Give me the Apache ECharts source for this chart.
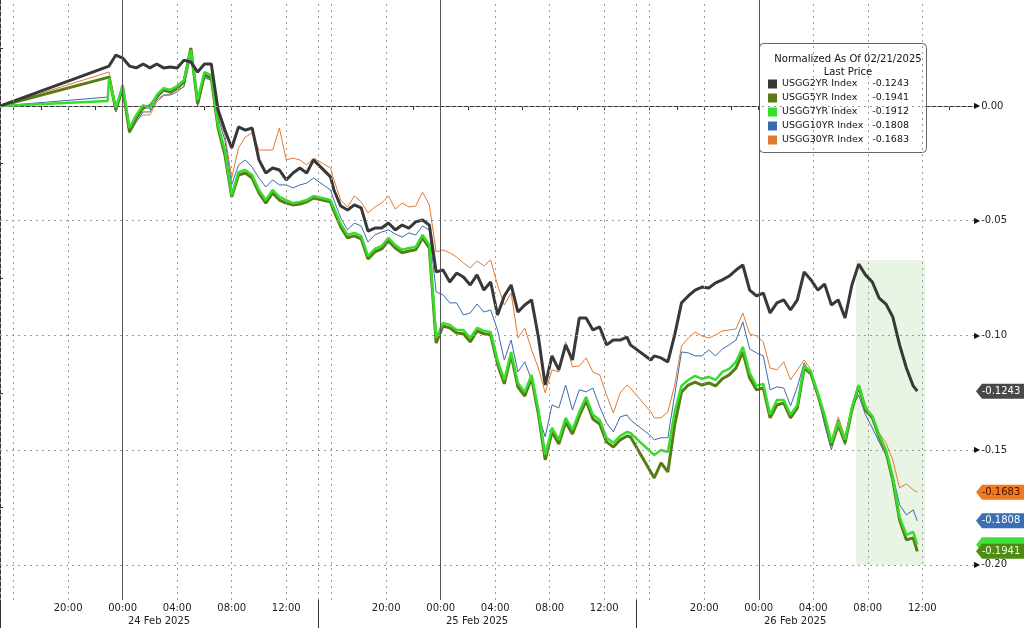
<!DOCTYPE html>
<html><head><meta charset="utf-8">
<script src="https://cdn.jsdelivr.net/npm/echarts@6.0.0/dist/echarts.min.js"></script>
<style>html,body{margin:0;padding:0;background:#fff}#c{width:1024px;height:628px}</style>
</head><body><div id="c"></div>
<script>
// ---- data (x = trading hours since first session open 15:00, overnight gaps removed) ----
const times = [0, 7.9,
 8, 8.5, 9, 9.5, 10, 10.5, 11, 11.5, 12, 12.5, 13, 13.5, 14, 14.5, 15, 15.5, 16, 16.5, 17, 17.5, 18, 18.5, 19, 19.5, 20, 20.5, 21, 21.5, 22, 22.5, 23,
 24.25, 24.5, 25, 25.5, 26, 26.5, 27, 27.5, 28, 28.5, 29, 29.5, 30, 30.5, 31, 31.5, 32, 32.5, 33, 33.5, 34, 34.5, 35, 35.5, 36, 36.5, 37, 37.5, 38, 38.5, 39, 39.5, 40, 40.5, 41, 41.5, 42, 42.5, 43, 43.5, 44, 44.5, 45, 45.5, 46, 46.25,
 47.75, 48, 48.5, 49, 49.5, 50, 50.5, 51, 51.5, 52, 52.5, 53, 53.5, 54, 54.5, 55, 55.5, 56, 56.5, 57, 57.5, 58, 58.5, 59, 59.5, 60, 60.5, 61, 61.5, 62, 62.5, 63, 63.5, 64, 64.5, 65, 65.5, 66, 66.5, 67, 67.3];

const usgg2yr = [0, null,
 0.0174, 0.0222, 0.0209, 0.0174, 0.0166, 0.0183, 0.0166, 0.0183, 0.0166, 0.0170, 0.0166, 0.0200, 0.0192, 0.0148, 0.0183, 0.0183, -0.0017, -0.0105, -0.0183, -0.0091, -0.0105, -0.0096, -0.0235, -0.0292, -0.0270, -0.0279, -0.0322, -0.0292, -0.0270, -0.0292, -0.0235,
 -0.0309, -0.0366, -0.0436, -0.0453, -0.0431, -0.0444, -0.0545, -0.0532, -0.0532, -0.0510, -0.0540, -0.0519, -0.0532, -0.0505, -0.0497, -0.0519, -0.0723, -0.0715, -0.0767, -0.0728, -0.0745, -0.0780, -0.0736, -0.0802, -0.0767, -0.0911, -0.0828, -0.0780, -0.0898, -0.0867, -0.0845, -0.1007, -0.1216, -0.1089, -0.1150, -0.1041, -0.1107, -0.0924, -0.0924, -0.0976, -0.0963, -0.1041, -0.1020, -0.1020, -0.1007, -0.1041,
 -0.1107, -0.1089, -0.1098, -0.1115, -0.0998, -0.0858, -0.0828, -0.0802, -0.0789, -0.0793, -0.0771, -0.0758, -0.0741, -0.0715, -0.0693, -0.0802, -0.0828, -0.0815, -0.0902, -0.0858, -0.0845, -0.0889, -0.0845, -0.0723, -0.0758, -0.0802, -0.0776, -0.0867, -0.0845, -0.0924, -0.0780, -0.0689, -0.0736, -0.0767, -0.0837, -0.0863, -0.0919, -0.1041, -0.1142, -0.1220, -0.1243];

const usgg5yr = [0, null,
 0.0126, -0.0017, 0.0078, -0.0113, -0.0052, -0.0009, 0.0000, 0.0039, 0.0070, 0.0061, 0.0078, 0.0105, 0.0253, 0.0009, 0.0135, 0.0122, -0.0096, -0.0213, -0.0396, -0.0301, -0.0292, -0.0314, -0.0379, -0.0423, -0.0379, -0.0410, -0.0423, -0.0431, -0.0427, -0.0418, -0.0401,
 -0.0418, -0.0457, -0.0527, -0.0575, -0.0566, -0.0579, -0.0667, -0.0636, -0.0623, -0.0588, -0.0619, -0.0640, -0.0632, -0.0627, -0.0575, -0.0619, -0.1033, -0.0959, -0.0967, -0.0989, -0.0993, -0.1028, -0.0980, -0.0993, -0.0998, -0.1124, -0.1211, -0.1085, -0.1224, -0.1264, -0.1185, -0.1342, -0.1542, -0.1420, -0.1473, -0.1377, -0.1429, -0.1351, -0.1285, -0.1364, -0.1386, -0.1464, -0.1486, -0.1455, -0.1438, -0.1442,
 null, -0.1621, -0.1555, -0.1595, -0.1390, -0.1246, -0.1216, -0.1203, -0.1216, -0.1207, -0.1220, -0.1189, -0.1172, -0.1142, -0.1072, -0.1185, -0.1237, -0.1229, -0.1359, -0.1303, -0.1294, -0.1359, -0.1316, -0.1142, -0.1168, -0.1259, -0.1359, -0.1481, -0.1390, -0.1468, -0.1325, -0.1220, -0.1325, -0.1359, -0.1442, -0.1508, -0.1630, -0.1804, -0.1891, -0.1882, -0.1941];

const usgg7yr = [0, 0.0022,
 0.0122, -0.0009, 0.0092, -0.0096, -0.0039, 0.0004, -0.0009, 0.0048, 0.0078, 0.0070, 0.0087, 0.0113, 0.0244, 0.0026, 0.0148, 0.0135, -0.0083, -0.0192, -0.0388, -0.0288, -0.0279, -0.0301, -0.0366, -0.0410, -0.0366, -0.0396, -0.0410, -0.0423, -0.0418, -0.0410, -0.0392,
 -0.0410, -0.0444, -0.0514, -0.0562, -0.0553, -0.0566, -0.0654, -0.0623, -0.0610, -0.0575, -0.0606, -0.0627, -0.0619, -0.0614, -0.0562, -0.0606, -0.1011, -0.0945, -0.0954, -0.0976, -0.0976, -0.1011, -0.0967, -0.0980, -0.0985, -0.1107, -0.1194, -0.1072, -0.1207, -0.1246, -0.1172, -0.1325, -0.1521, -0.1403, -0.1455, -0.1359, -0.1412, -0.1333, -0.1268, -0.1346, -0.1368, -0.1446, -0.1468, -0.1438, -0.1420, -0.1425,
 -0.1508, -0.1521, -0.1499, -0.1508, -0.1333, -0.1220, -0.1194, -0.1176, -0.1189, -0.1181, -0.1194, -0.1159, -0.1146, -0.1115, -0.1050, -0.1163, -0.1220, -0.1211, -0.1346, -0.1281, -0.1281, -0.1346, -0.1303, -0.1133, -0.1159, -0.1250, -0.1346, -0.1468, -0.1377, -0.1455, -0.1316, -0.1216, -0.1316, -0.1351, -0.1433, -0.1499, -0.1616, -0.1791, -0.1869, -0.1856, -0.1912];

const usgg10yr = [0, 0.0039,
 0.0113, -0.0026, 0.0070, -0.0118, -0.0070, -0.0026, -0.0026, 0.0026, 0.0048, 0.0048, 0.0061, 0.0087, 0.0222, 0.0000, 0.0122, 0.0113, -0.0052, -0.0148, -0.0344, -0.0257, -0.0235, -0.0266, -0.0314, -0.0353, -0.0322, -0.0344, -0.0344, -0.0357, -0.0344, -0.0336, -0.0314,
 -0.0366, -0.0410, -0.0488, -0.0540, -0.0510, -0.0523, -0.0593, -0.0562, -0.0549, -0.0540, -0.0558, -0.0571, -0.0553, -0.0562, -0.0523, -0.0540, -0.0810, -0.0823, -0.0858, -0.0858, -0.0911, -0.0902, -0.0863, -0.0898, -0.0889, -0.0976, -0.1107, -0.1020, -0.1159, -0.1115, -0.1194, -0.1346, -0.1442, -0.1303, -0.1316, -0.1216, -0.1325, -0.1237, -0.1246, -0.1229, -0.1311, -0.1381, -0.1420, -0.1355, -0.1346, -0.1368,
 -0.1438, -0.1455, -0.1446, -0.1446, -0.1259, -0.1072, -0.1076, -0.1089, -0.1089, -0.1063, -0.1089, -0.1059, -0.1041, -0.1020, -0.0941, -0.1059, -0.1076, -0.1089, -0.1237, -0.1224, -0.1229, -0.1307, -0.1224, -0.1120, -0.1172, -0.1259, -0.1390, -0.1499, -0.1368, -0.1477, -0.1316, -0.1259, -0.1346, -0.1403, -0.1464, -0.1521, -0.1608, -0.1738, -0.1782, -0.1760, -0.1808];

const usgg30yr = [0, null,
 0.0148, 0.0000, 0.0070, -0.0087, -0.0061, -0.0039, -0.0039, 0.0017, 0.0044, 0.0052, 0.0070, 0.0083, 0.0253, 0.0026, 0.0135, 0.0135, -0.0039, -0.0126, -0.0314, -0.0183, -0.0135, -0.0118, -0.0192, -0.0192, -0.0192, -0.0096, -0.0235, -0.0227, -0.0235, -0.0257, -0.0227,
 -0.0270, -0.0322, -0.0410, -0.0440, -0.0392, -0.0418, -0.0466, -0.0440, -0.0423, -0.0392, -0.0449, -0.0423, -0.0440, -0.0436, -0.0375, -0.0431, -0.0636, -0.0627, -0.0640, -0.0658, -0.0684, -0.0706, -0.0675, -0.0697, -0.0671, -0.0780, -0.0867, -0.0815, -0.1011, -0.0967, -0.1063, -0.1142, -0.1250, -0.1150, -0.1159, -0.1028, -0.1137, -0.1133, -0.1098, -0.1159, -0.1172, -0.1259, -0.1338, -0.1250, -0.1216, -0.1229,
 -0.1333, -0.1359, -0.1359, -0.1333, -0.1216, -0.1046, -0.1011, -0.0985, -0.1002, -0.1011, -0.0998, -0.0980, -0.0976, -0.0972, -0.0902, -0.0993, -0.1002, -0.1028, -0.1142, -0.1150, -0.1115, -0.1194, -0.1150, -0.1107, -0.1150, -0.1250, -0.1346, -0.1455, -0.1355, -0.1442, -0.1303, -0.1216, -0.1303, -0.1359, -0.1425, -0.1468, -0.1542, -0.1664, -0.1647, -0.1673, -0.1683];

const seriesNames = ['USGG2YR Index', 'USGG5YR Index', 'USGG7YR Index', 'USGG10YR Index', 'USGG30YR Index'];
const hourLabels = ['20:00', '00:00', '04:00', '08:00', '12:00'];
const hourLabelOffsets = [5, 9, 13, 17, 21];          // hours after 15:00 session open
const dateLabels = ['24 Feb 2025', '25 Feb 2025', '26 Feb 2025'];
const yLabelValues = [0, -0.05, -0.10, -0.15, -0.20];
const legendTitle = 'Normalized As Of 02/21/2025';
const legendSubtitle = 'Last Price';

// ---- layout / style ----
const SESSION = 23 + 1 / 3;
const X_MAX = 71.46, Y_MIN = -0.2153, Y_MAX = 0.0462;
const FONT = 'DejaVu Sans';
const colors = ['#383838', '#587c14', '#36de2c', '#3a6aae', '#e07a30'];
const widths = [3, 3, 2.5, 1, 1];

const hourLabelPos = [], hourLabelText = [];
for (let s = 0; s < 3; s++) hourLabelOffsets.forEach((o, i) => { hourLabelPos.push(s * SESSION + o); hourLabelText.push(hourLabels[i]); });
const datePos = [0, 1, 2].map(s => s * SESSION + 11.67);
const xTicks = [];
for (let s = 0; s < 3; s++) { const last = s === 2 ? 23 : 21; for (let h = 1; h <= last; h += 2) xTicks.push(s * SESSION + h); }
const sessionStarts = [0, SESSION, 2 * SESSION];
const dottedX = [];
for (let s = 0; s < 3; s++) [0, 1, 5, 13, 17, 21].forEach(h => dottedX.push(s * SESSION + h));
const midnightX = [0, 1, 2].map(s => s * SESSION + 9);
const yMinor = [0.025, -0.025, -0.075, -0.125, -0.175];

function nearestLabel(v, pos, txt) {
  let b = 0; for (let i = 1; i < pos.length; i++) if (Math.abs(pos[i] - v) < Math.abs(pos[b] - v)) b = i; return txt[b];
}

const allData = [usgg2yr, usgg5yr, usgg7yr, usgg10yr, usgg30yr];
const lastVals = allData.map(a => a[a.length - 1]);

const dotted = { type: [2, 4], color: '#9a9a9a', width: 1 };
const gridMarks = [];
yLabelValues.forEach(v => gridMarks.push({ yAxis: v, lineStyle: dotted }));
dottedX.forEach(v => gridMarks.push({ xAxis: v, lineStyle: dotted }));
midnightX.forEach(v => gridMarks.push({ xAxis: v, lineStyle: { type: 'solid', color: '#555', width: 1 } }));

const drawOrder = [4, 3, 1, 2, 0];
const lineSeries = drawOrder.map(i => ({
  name: seriesNames[i], type: 'line', xAxisIndex: 0, yAxisIndex: 0, z: 3,
  data: times.map((t, k) => [t, allData[i][k]]),
  showSymbol: false, symbol: 'none', connectNulls: true, clip: true,
  lineStyle: { color: colors[i], width: widths[i] }, itemStyle: { color: colors[i] }
}));

const tagStyles = [
  { i: 2, bg: '#3ee03a', fg: '#ffffff', text: false },
  { i: 4, bg: '#ee7a22', fg: '#4a1400', text: true },
  { i: 3, bg: '#3b6fb3', fg: '#ffffff', text: true },
  { i: 0, bg: '#484848', fg: '#ffffff', text: true },
  { i: 1, bg: '#4f8a14', fg: '#eaffd8', text: true }
];

const option = {
  animation: false,
  backgroundColor: '#ffffff',
  textStyle: { fontFamily: FONT },
  grid: { left: 0, right: 50, top: 0, bottom: 28, outerBoundsMode: 'none' },
  title: {
    text: legendTitle, subtext: legendSubtitle, left: 843, top: 49, textAlign: 'center', itemGap: 3, z: 10,
    textStyle: { fontFamily: FONT, fontSize: 10, fontWeight: 'normal', color: '#111' },
    subtextStyle: { fontFamily: FONT, fontSize: 10, color: '#111' }
  },
  legend: {
    data: seriesNames, orient: 'vertical', left: 768, top: 77, padding: 0, itemGap: 0, itemWidth: 9, itemHeight: 9,
    icon: 'rect', selectedMode: false, z: 10,
    formatter: name => '{n|' + name + '}{v|' + lastVals[seriesNames.indexOf(name)].toFixed(4) + '}',
    textStyle: {
      fontFamily: FONT, fontSize: 9.5, color: '#111', lineHeight: 14,
      rich: { n: { width: 88, fontFamily: FONT, fontSize: 9.5, color: '#111' }, v: { width: 39, align: 'right', fontFamily: FONT, fontSize: 9.5, color: '#111' } }
    }
  },
  graphic: [{ type: 'rect', shape: { x: 759.5, y: 43.5, width: 167, height: 109, r: 4 }, style: { fill: '#fff', stroke: '#666', lineWidth: 1 }, z: 5 }],
  xAxis: [
    { type: 'value', min: 0, max: X_MAX, position: 'bottom',
      axisLine: { show: true, lineStyle: { color: '#333', width: 1 } },
      axisTick: { show: true, customValues: xTicks, length: 4, lineStyle: { color: '#333' } },
      axisLabel: { customValues: hourLabelPos, margin: 3, fontSize: 10, color: '#222', fontFamily: FONT,
        formatter: v => nearestLabel(v, hourLabelPos, hourLabelText) },
      splitLine: { show: false } },
    { type: 'value', min: 0, max: X_MAX, position: 'bottom', offset: 13,
      axisLine: { show: false }, axisTick: { show: false },
      axisLabel: { customValues: datePos, margin: 3, fontSize: 10, color: '#222', fontFamily: FONT,
        formatter: v => nearestLabel(v, datePos, dateLabels) },
      splitLine: { show: false } },
    { type: 'value', min: 0, max: X_MAX, position: 'bottom',
      axisLine: { show: false },
      axisTick: { show: true, customValues: sessionStarts, length: 30, lineStyle: { color: '#333', width: 1 } },
      axisLabel: { show: false }, splitLine: { show: false } }
  ],
  yAxis: {
    type: 'value', position: 'right', min: Y_MIN, max: Y_MAX,
    axisLine: { show: true, lineStyle: { color: '#333', width: 1 } },
    axisTick: { show: true, customValues: yMinor, length: 3, lineStyle: { color: '#333' } },
    axisLabel: { customValues: yLabelValues, margin: 0, fontSize: 10, color: '#222', fontFamily: FONT,
      formatter: v => '{t|\u25B6}' + (Math.abs(v) < 1e-9 ? '0.00' : v.toFixed(2)),
      rich: { t: { fontSize: 8, color: '#111', padding: [0, 1, 0, 0] } } },
    splitLine: { show: false }
  },
  series: [
    { type: 'line', data: [], z: 1, silent: true,
      markArea: { silent: true, itemStyle: { color: 'rgba(205,232,196,0.45)' },
        data: [[{ coord: [62.8, -0.0671] }, { coord: [67.87, -0.2] }]] } },
    { type: 'line', data: [], z: 2, silent: true,
      markLine: { silent: true, symbol: ['none', 'none'], label: { show: false }, animation: false, data: gridMarks } },
    ...lineSeries,
    { type: 'scatter', z: 8, clip: false, silent: true,
      symbol: 'path://M0,8 L6,0 L50,0 L50,16 L6,16 Z', symbolSize: [50, 15], symbolOffset: [27, 0], symbolKeepAspect: false,
      data: tagStyles.map(t => ({ value: [X_MAX, lastVals[t.i]], itemStyle: { color: t.bg, opacity: 1 },
        label: { show: t.text, position: 'inside', color: t.fg, fontSize: 10, fontFamily: FONT,
          formatter: p => p.value[1].toFixed(4) } })) }
  ]
};
const chart = echarts.init(document.getElementById('c'), null, { renderer: 'canvas' });
chart.setOption(option);
</script></body></html>
